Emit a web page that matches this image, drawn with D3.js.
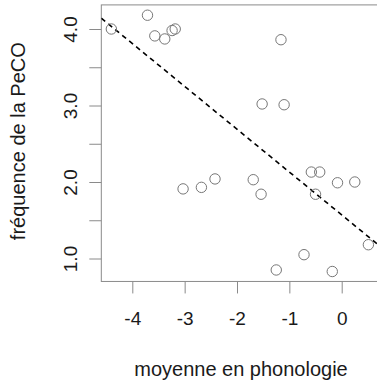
<!DOCTYPE html>
<html>
<head>
<meta charset="utf-8">
<script src="https://cdn.jsdelivr.net/npm/d3@7/dist/d3.min.js"></script>
<style>
html,body{margin:0;padding:0;background:#fff;overflow:hidden}
svg{display:block}
text{font-family:"Liberation Sans",Arial,Helvetica,sans-serif;fill:#1a1a1a}
</style>
</head>
<body>
<svg id="chart" width="377" height="385"></svg>
<script>
// Data
const phonologie = [-4.40,-3.71,-3.57,-3.38,-3.24,-3.18,-1.16,-1.52,-1.10,-3.03,-2.68,-2.42,-1.69,-1.54,-0.58,-0.42,-0.08,0.25,-0.50,0.51,-0.72,-1.25,-0.18];
const peco       = [4.00,4.18,3.91,3.87,3.98,4.00,3.86,3.02,3.01,1.91,1.93,2.04,2.03,1.84,2.13,2.13,1.99,2.00,1.84,1.18,1.05,0.85,0.83];
const fitIntercept = 1.57;
const fitSlope = -0.56;
const xTicks = [-4,-3,-2,-1,0];
const yTicks = [1.0,1.5,2.0,2.5,3.0,3.5,4.0];
const yTickLabels = ["1.0","","2.0","","3.0","","4.0"];
const xDomain = [-4.592, 1.0];
const yDomain = [0.70, 4.315];

const svg = d3.select("#chart");
const x = d3.scaleLinear().domain([-4,0]).range([132.3,341.7]);
const y = d3.scaleLinear().domain([1,4]).range([258.5,29]);
const pLeft = x(xDomain[0]), pRight = x(xDomain[1]);
const pTop = y(yDomain[1]), pBottom = y(yDomain[0]);
const axisColor = "#8a8a8a";

// box (top, left, bottom; right side falls outside the picture)
svg.append("rect")
  .attr("x",pLeft).attr("y",pTop)
  .attr("width",pRight-pLeft).attr("height",pBottom-pTop)
  .attr("fill","none").attr("stroke",axisColor).attr("stroke-width",1);

// x axis
const xAxis = d3.axisBottom(x).tickValues(xTicks).tickSize(12).tickPadding(18)
  .tickFormat(d => d3.format("d")(d).replace("−","-"));
const gx = svg.append("g").attr("transform",`translate(0,${pBottom})`).call(xAxis);
gx.select(".domain").remove();
gx.selectAll(".tick line").attr("stroke",axisColor);
gx.selectAll(".tick text").attr("font-size",19).attr("fill","#1a1a1a")
  .attr("font-family","Liberation Sans, Arial, sans-serif");

// y axis
const yAxis = d3.axisLeft(y).tickValues(yTicks).tickSize(12)
  .tickFormat((d,i) => yTickLabels[i]);
const gy = svg.append("g").attr("transform",`translate(${pLeft},0)`).call(yAxis);
gy.select(".domain").remove();
gy.selectAll(".tick line").attr("stroke",axisColor);
gy.selectAll(".tick text")
  .attr("font-size",19).attr("fill","#1a1a1a")
  .attr("font-family","Liberation Sans, Arial, sans-serif")
  .attr("x",0).attr("dy",null)
  .attr("text-anchor","middle")
  .attr("transform","translate(-24,0) rotate(-90)");

// axis titles
svg.append("text").attr("x",(x(-4)+x(0))/2+4).attr("y",376)
  .attr("text-anchor","middle").attr("font-size",20)
  .text("moyenne en phonologie");
svg.append("text")
  .attr("transform",`translate(25,${(pTop+pBottom)/2 - 2}) rotate(-90)`)
  .attr("text-anchor","middle").attr("font-size",20)
  .text("fréquence de la PeCO");

// clip
svg.append("clipPath").attr("id","clip").append("rect")
  .attr("x",pLeft).attr("y",pTop).attr("width",pRight-pLeft).attr("height",pBottom-pTop);

// regression line
svg.append("line")
  .attr("clip-path","url(#clip)")
  .attr("x1",x(xDomain[0])).attr("y1",y(fitIntercept+fitSlope*xDomain[0]))
  .attr("x2",x(xDomain[1])).attr("y2",y(fitIntercept+fitSlope*xDomain[1]))
  .attr("stroke","#000").attr("stroke-width",1.6).attr("stroke-dasharray","5,4");

// points
svg.append("g").selectAll("circle")
  .data(phonologie.map((v,i)=>({x:v,y:peco[i]})))
  .join("circle")
  .attr("cx",d=>x(d.x)).attr("cy",d=>y(d.y)).attr("r",5.2)
  .attr("fill","none").attr("stroke","#777").attr("stroke-width",1);
</script>
</body>
</html>
